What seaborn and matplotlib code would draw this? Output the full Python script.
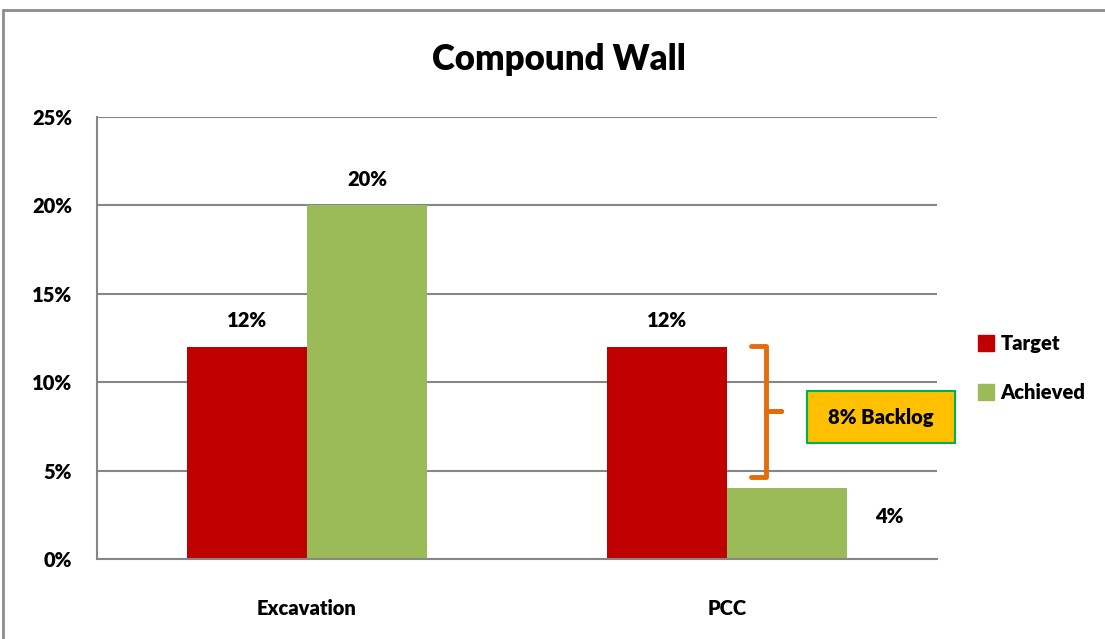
import pandas as pd
import seaborn as sns
import matplotlib.pyplot as plt
from matplotlib.patches import Rectangle
from matplotlib.lines import Line2D

categories = ["Excavation", "PCC"]
series = ["Target", "Achieved"]
target = [0.12, 0.12]
achieved = [0.20, 0.04]
title = "Compound Wall"
backlog_text = "8% Backlog"

colors = {"Target": "#C00000", "Achieved": "#9BBB59"}
grid_gray = "#868686"
weight = "heavy"

sns.set_style("white")
plt.rcParams["font.family"] = ["Lato", "DejaVu Sans"]
plt.rcParams["font.weight"] = weight
plt.rcParams["text.color"] = "black"
plt.rcParams["xtick.color"] = "black"
plt.rcParams["ytick.color"] = "black"

df = pd.DataFrame({
    "category": categories * 2,
    "series": [series[0]] * len(categories) + [series[1]] * len(categories),
    "value": target + achieved,
})

fig = plt.figure(figsize=(11.05, 6.39), dpi=100)
ax = fig.add_axes([97 / 1105, 1 - 559 / 639, 840 / 1105, 442 / 639])

sns.barplot(data=df, x="category", y="value", hue="series", hue_order=series,
            palette=colors, width=0.572, saturation=1, errorbar=None, ax=ax,
            legend=False, linewidth=0, edgecolor="none")

ax.set_xlim(-0.5, 1.5)
ax.set_ylim(0, 0.25)
ax.set_yticks([0, 0.05, 0.10, 0.15, 0.20, 0.25])
ax.set_yticklabels([f"{int(round(v * 100))}%" for v in ax.get_yticks()])
ax.set_xlabel("")
ax.set_ylabel("")
ax.yaxis.grid(True, color=grid_gray, linewidth=1.5)
ax.set_axisbelow(True)
for side in ["top", "right"]:
    ax.spines[side].set_visible(False)
for side in ["left", "bottom"]:
    ax.spines[side].set_color(grid_gray)
    ax.spines[side].set_linewidth(1.5)

# category separators as minor ticks, labels on major ticks
ax.set_xticks([-0.5, 0.5, 1.5], minor=True)
ax.tick_params(axis="x", which="major", length=0, pad=29, labelsize=14.5)
ax.tick_params(axis="x", which="minor", length=6, width=1.5, color=grid_gray, direction="out")
ax.tick_params(axis="y", length=6, width=1.5, color=grid_gray, direction="out",
               labelsize=14.5, pad=12)
for lab in ax.get_xticklabels() + ax.get_yticklabels():
    lab.set_fontweight(weight)

# value labels
bars = ax.patches
for i, s in enumerate(series):
    vals = target if s == "Target" else achieved
    for j, v in enumerate(vals):
        bar = bars[i * len(categories) + j]
        cx = bar.get_x() + bar.get_width() / 2
        txt = f"{int(round(v * 100))}%"
        if s == "Achieved" and j == 1:
            ax.annotate(txt, (bar.get_x() + bar.get_width(), v), xytext=(42, -28),
                        textcoords="offset pixels", ha="center", va="center",
                        fontsize=14.5, fontweight=weight)
        else:
            ax.annotate(txt, (cx, v), xytext=(0, 26), textcoords="offset pixels",
                        ha="center", va="center", fontsize=14.5, fontweight=weight)

# backlog bracket
bx, tip, hook = 1.093, 1.128, 1.058
top_y, bot_y = 0.1205, 0.0465
mid_y = (top_y + bot_y) / 2
bracket_c = "#E46C0A"
ax.plot([hook, bx, bx, tip, bx, bx, hook],
        [top_y, top_y, mid_y, mid_y, mid_y, bot_y, bot_y],
        color=bracket_c, linewidth=3.5, solid_joinstyle="round",
        solid_capstyle="round", clip_on=False)

ax.add_patch(Rectangle((1.19, 0.0656), 0.352, 0.0294, facecolor="#FFC000",
                       edgecolor="#00B050", linewidth=1.5, clip_on=False, zorder=5))
ax.text(1.19 + 0.176, 0.0656 + 0.0147, backlog_text, ha="center", va="center",
        fontsize=14.5, fontweight=weight, zorder=6)

fig.text(559 / 1105, 1 - 60 / 639, title, ha="center", va="center",
         fontsize=25, fontweight=weight)

handles = [Line2D([], [], marker="s", linestyle="", markersize=11,
                  markerfacecolor=colors[s], markeredgecolor=colors[s]) for s in series]
fig.legend(handles, series, loc="center left", bbox_to_anchor=(958 / 1105, 1 - 368 / 639),
           frameon=False, handletextpad=0.2, labelspacing=1.5,
           handlelength=1.0, prop={"weight": weight, "size": 14.5})

# outer chart frame
fig.patches.append(Rectangle((3 / 1105, -0.05), 1.2, 1 - 10 / 639 + 0.05,
                             transform=fig.transFigure, fill=False,
                             edgecolor="#8C8C8C", linewidth=2))

fig.savefig("out.png", dpi=100)
